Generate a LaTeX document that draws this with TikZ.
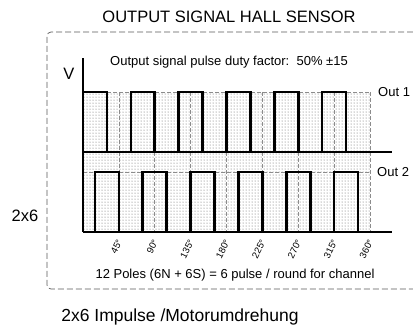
\documentclass[tikz,border=0pt]{standalone}
\usepackage{fontspec}
\setmainfont{Liberation Sans}
\usetikzlibrary{patterns}

\begin{document}
\begin{tikzpicture}[
    x=1pt, y=-1pt,
    txt/.style={inner sep=0pt, font=\fontsize{13}{15}\selectfont},
    bigtxt/.style={inner sep=0pt, font=\fontsize{16.5}{19}\selectfont},
    wave/.style={line width=2.6pt, line join=miter},
    gridline/.style={black!45, dash pattern=on 4pt off 2pt, line width=0.7pt},
    angle/.style={inner sep=0pt, anchor=east, rotate=63, font=\fontsize{9.5}{10}\selectfont},
  ]
  \useasboundingbox (0,0) rectangle (413,325);
  \draw[black!65, line width=0.7pt, dash pattern=on 6pt off 3pt, rounded corners=4pt]
    (413,32) -| (47,289) -- (413,289);
  \fill[pattern=dots, pattern color=black!65] (83,92) rectangle (370,232);
  \foreach \a in {1,...,8}
    \draw[gridline] ({83+\a*35.875},92) -- ({83+\a*35.875},232);
  \draw[gridline] (83,92) -- (370,92) (83,172) -- (370,172);
  \draw[line width=1.6pt] (83,58) -- (83,232);
  \draw[line width=1.3pt] (83,152) -- (392,152) (83,232) -- (392,232);
  \begin{scope}[shift={(83,152)}, x=0.7972pt, y=1pt]
    \draw[wave] (0,0) foreach \k in {0,...,5} { |- ({60*\k+30},60) |- ({60*\k+60},0) };
  \end{scope}
  \begin{scope}[shift={(83,232)}, x=0.7972pt, y=1pt]
    \draw[wave] (0,0) foreach \k in {0,...,5} { -| ({60*\k+15},60) -| ({60*\k+45},0) } -- (360,0);
  \end{scope}
  \foreach \a [evaluate=\a as \d using int(45*\a)] in {1,...,8}
    \node[angle] (deg\a) at ({84+\a*35.875},240) {\d°};
  \node[bigtxt] (title) at (229,17) {OUTPUT SIGNAL HALL SENSOR};
  \node[txt] (duty) at (229,62) {Output signal pulse duty factor:\ \ 50\% ±15};
  \node[bigtxt] (vlabel) at (69,74) {V};
  \node[txt, anchor=west] (out1) at (378,92) {Out 1};
  \node[txt, anchor=west] (out2) at (377,172) {Out 2};
  \node[bigtxt] (count) at (25,216) {2x6};
  \node[txt] (poles) at (235,275) {12 Poles (6N + 6S) = 6 pulse / round for channel};
  \node[bigtxt, font=\fontsize{17.5}{20}\selectfont] (impulse) at (180,317) {2x6 Impulse /Motorumdrehung};
\end{tikzpicture}
\end{document}
